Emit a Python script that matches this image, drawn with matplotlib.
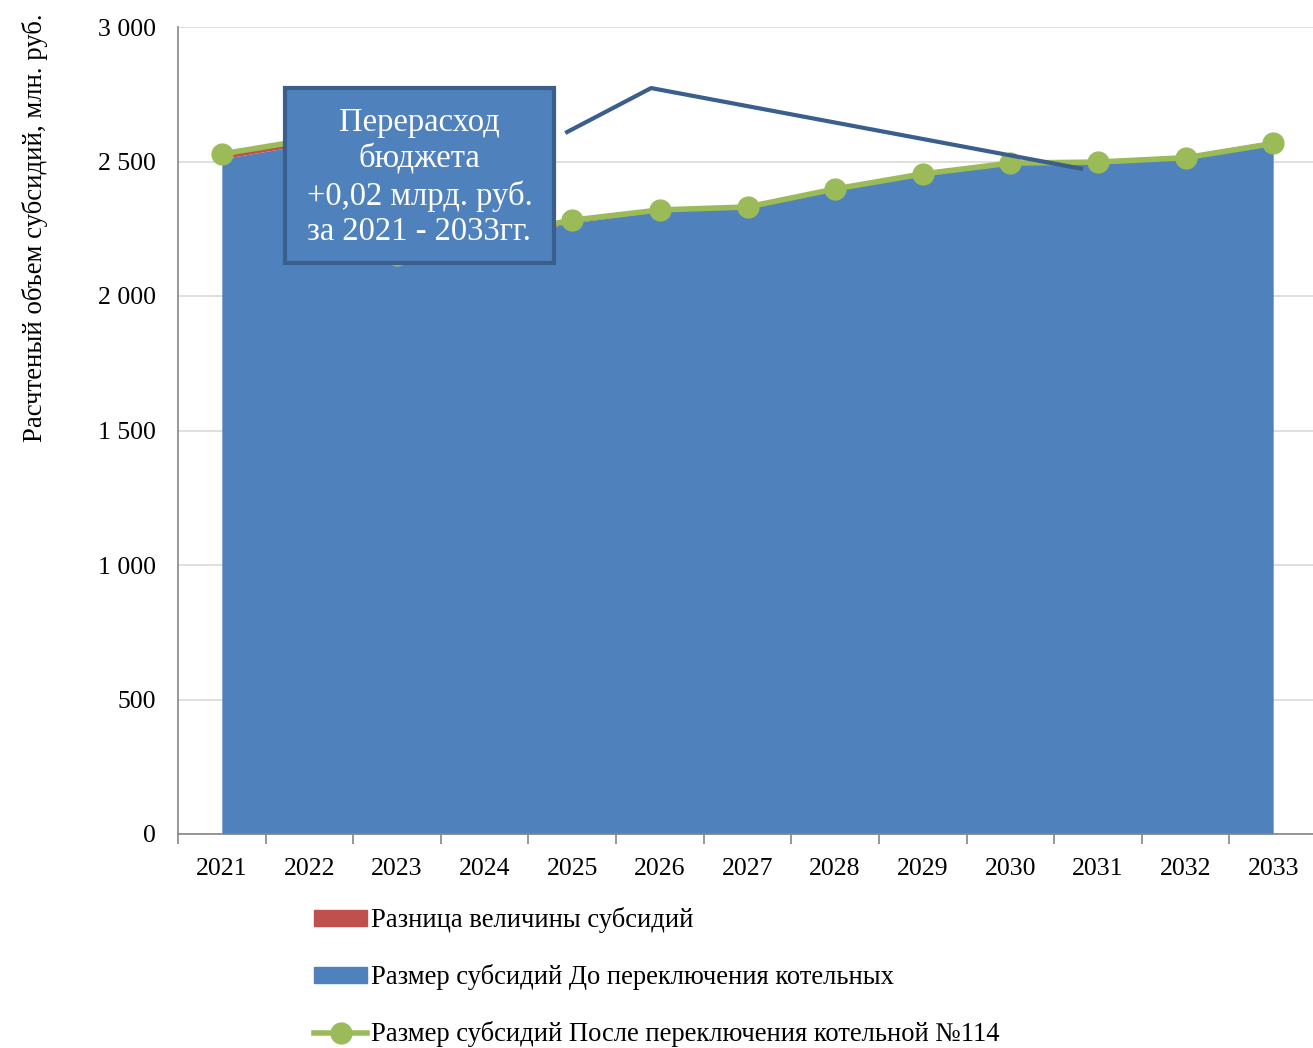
import matplotlib.pyplot as plt
import numpy as np
from matplotlib.patches import Rectangle, Patch
from matplotlib.lines import Line2D

plt.rcParams['font.family'] = ['Liberation Serif', 'DejaVu Serif']

years = ['2021', '2022', '2023', '2024', '2025', '2026', '2027',
         '2028', '2029', '2030', '2031', '2032', '2033']
before = [2510, 2565, 2140, 2205, 2272, 2315, 2328, 2395, 2452, 2492, 2508, 2524, 2578]
after = [2528, 2582, 2152, 2219, 2282, 2320, 2331, 2398, 2454, 2494, 2498, 2514, 2567]

labels = ['Разница величины субсидий',
          'Размер субсидий До переключения котельных',
          'Размер субсидий После переключения котельной №114']
callout = 'Перерасход\nбюджета\n+0,02 млрд. руб.\nза 2021 - 2033гг.'

blue = '#4F81BD'
red = '#C0504D'
green = '#9BBB59'
dark = '#3A5F8C'

fig = plt.figure(figsize=(13.13, 10.48), dpi=100)
ax = fig.add_axes([178 / 1313, 1 - 834 / 1048, 1139 / 1313, 807 / 1048])

x = np.arange(len(years))
b = np.array(before)
a = np.array(after)

ax.fill_between(x, 0, b, color=blue, lw=0, zorder=2)
ax.fill_between(x, b, a, where=a > b, interpolate=True, color=red, lw=0, zorder=2)
ax.plot(x, a, color=green, lw=4, marker='o', ms=15, zorder=3)

ax.set_xlim(-0.5, len(years) - 0.5)
ax.set_ylim(0, 3000)
ax.set_yticks(np.arange(0, 3001, 500))
ax.set_yticklabels(['0', '500', '1 000', '1 500', '2 000', '2 500', '3 000'])
ax.set_xticks(x)
ax.set_xticklabels(years)
ax.set_xticks(np.arange(-0.5, len(years), 1), minor=True)
ax.tick_params(axis='x', which='major', length=0, pad=17, labelsize=18.5)
ax.tick_params(axis='x', which='minor', length=7, color='#868686', width=1.2)
ax.tick_params(axis='y', length=0, pad=16, labelsize=18.5)
ax.grid(axis='y', color='#D9D9D9', lw=1.2, zorder=0)
ax.set_axisbelow(True)
for s in ['top', 'right']:
    ax.spines[s].set_visible(False)
for s in ['left', 'bottom']:
    ax.spines[s].set_color('#868686')
    ax.spines[s].set_linewidth(1.2)

# выноска
ax.plot([3.92, 4.90, 9.83], [2606, 2773, 2472], color=dark, lw=3, zorder=5,
        solid_capstyle='butt')
ax.add_patch(Rectangle((0.72, 2123), 3.07, 650, facecolor=blue, edgecolor=dark,
                       lw=3, zorder=6))
ax.text(2.255, 2440, callout, ha='center', va='center', color='white',
        fontsize=23.5, linespacing=1.22, zorder=7)

fig.text(0.027, 1 - 14 / 1048, 'Расчтеный объем субсидий, млн. руб.', rotation=90,
         ha='center', va='top', fontsize=19.3)

handles = [Patch(color=red), Patch(color=blue),
           Line2D([], [], color=green, lw=4, marker='o', ms=15)]
fig.legend(handles, labels, loc='upper left', bbox_to_anchor=(314 / 1313, 1 - 907 / 1048),
           frameon=False, fontsize=19.2, handlelength=2.0, handleheight=0.55,
           handletextpad=0.15, labelspacing=1.17, borderaxespad=0, borderpad=0)

fig.savefig('out.png', dpi=100)
